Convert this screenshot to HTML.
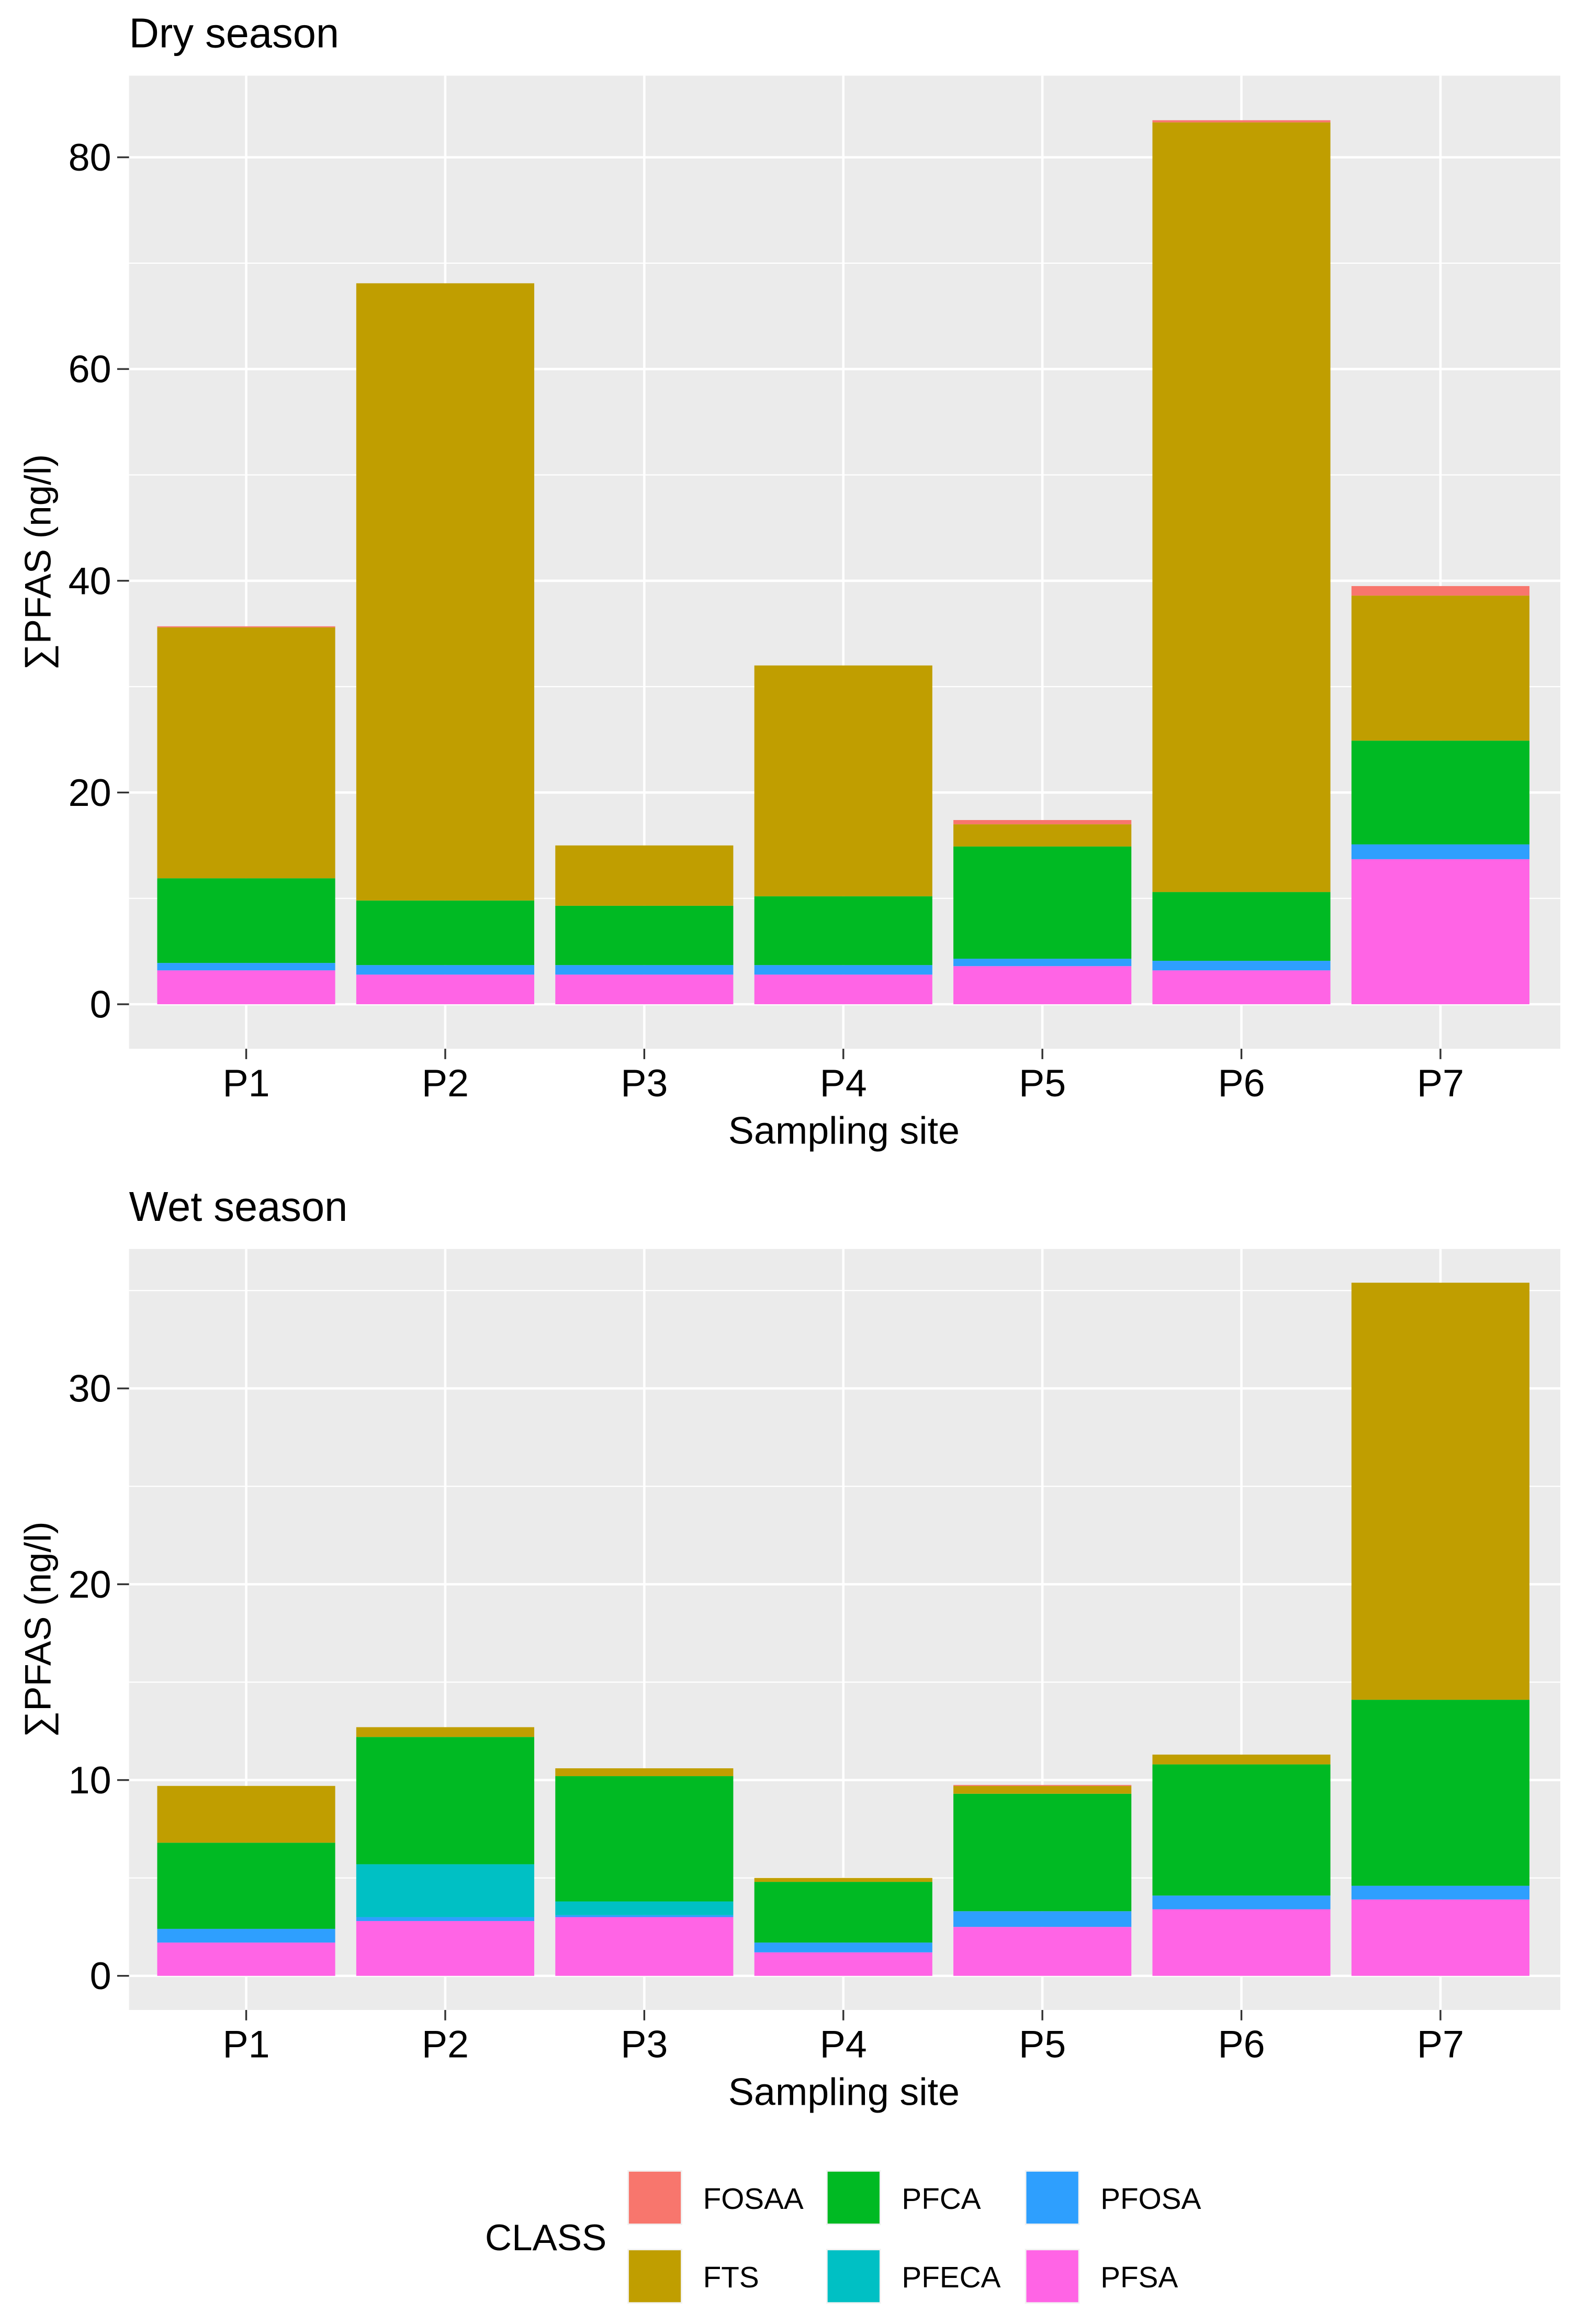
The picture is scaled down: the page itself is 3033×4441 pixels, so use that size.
<!DOCTYPE html>
<html><head><meta charset="utf-8"><style>
html,body{margin:0;padding:0;background:#fff}
svg{display:block}
text{font-family:"Liberation Sans",sans-serif;fill:#000}
</style></head><body>
<svg id="chart" width="3033" height="4441" viewBox="0 0 1070 1566.7" preserveAspectRatio="none" xmlns="http://www.w3.org/2000/svg"></svg>
<script>
const sites = ["P1","P2","P3","P4","P5","P6","P7"];
const classOrder = ["PFSA","PFOSA","PFECA","PFCA","FTS","FOSAA"];
// dry season values (ng/l) per class, per site
const dryPFSA  = [3.2, 2.8, 2.8, 2.8, 3.6, 3.2, 13.7];
const dryPFOSA = [0.7, 0.9, 0.9, 0.9, 0.7, 0.9, 1.4];
const dryPFECA = [0, 0, 0, 0, 0, 0, 0];
const dryPFCA  = [8.0, 6.1, 5.6, 6.5, 10.6, 6.5, 9.8];
const dryFTS   = [23.7, 58.3, 5.7, 21.8, 2.1, 72.7, 13.7];
const dryFOSAA = [0.1, 0, 0, 0, 0.4, 0.2, 0.9];
// wet season
const wetPFSA  = [1.7, 2.8, 3.0, 1.2, 2.5, 3.4, 3.9];
const wetPFOSA = [0.7, 0.2, 0.1, 0.5, 0.8, 0.7, 0.7];
const wetPFECA = [0, 2.7, 0.7, 0, 0, 0, 0];
const wetPFCA  = [4.4, 6.5, 6.4, 3.1, 6.0, 6.7, 9.5];
const wetFTS   = [2.9, 0.5, 0.4, 0.2, 0.4, 0.5, 21.3];
const wetFOSAA = [0, 0, 0, 0, 0.05, 0, 0];
const dryTicks = [0,20,40,60,80];
const wetTicks = [0,10,20,30];
const legendOrder = ["FOSAA","PFCA","PFOSA","FTS","PFECA","PFSA"];

const colors = {FOSAA:"#F8766D",FTS:"#C09E00",PFCA:"#00BA23",PFECA:"#00C0C4",PFOSA:"#2E9FFE",PFSA:"#FF64E5"};
const svg = document.getElementById('chart');
const NS = "http://www.w3.org/2000/svg";
function mk(tag, attrs, parent){const e=document.createElementNS(NS,tag);for(const k in attrs)e.setAttribute(k,attrs[k]);(parent||svg).appendChild(e);return e;}

function panel(opt){
  const g = mk('g',{});
  
  
  const L=87,R=1052,T=opt.top,B=opt.bottom;
  const y = v => opt.y0 - v*opt.ppu;
  const x = i => 166 + i*134.2;
  mk('rect',{x:L,y:T,width:R-L,height:B-T,fill:"#EBEBEB"},g);
  for(let i=0;i<opt.ticks.length-1;i++){const m=(opt.ticks[i]+opt.ticks[i+1])/2;mk('line',{x1:L,x2:R,y1:y(m),y2:y(m),stroke:"#fff","stroke-width":0.8},g);}
  const mt=opt.ticks[opt.ticks.length-1]+(opt.ticks[1]-opt.ticks[0])/2; if(y(mt)>T) mk('line',{x1:L,x2:R,y1:y(mt),y2:y(mt),stroke:"#fff","stroke-width":0.8},g);
  opt.ticks.forEach(t=>{
    mk('line',{x1:L,x2:R,y1:y(t),y2:y(t),stroke:"#fff","stroke-width":1.6},g);
    mk('line',{x1:L-8,x2:L,y1:y(t),y2:y(t),stroke:"#333","stroke-width":1.2},g);
    const tx=mk('text',{x:L-12,y:y(t)+9,"text-anchor":"end","font-size":26,fill:"#333"},g);tx.textContent=t;
    
    
  });
  sites.forEach((s,i)=>{
    mk('line',{x1:x(i),x2:x(i),y1:T,y2:B,stroke:"#fff","stroke-width":1.6},g);
    mk('line',{x1:x(i),x2:x(i),y1:B,y2:B+7,stroke:"#333","stroke-width":1.2},g);
    const tx=mk('text',{x:x(i),y:B+32,"text-anchor":"middle","font-size":26,fill:"#1a1a1a"},g);tx.textContent=s;
    
    
  });
  sites.forEach((s,i)=>{
    let acc=0;
    classOrder.forEach(c=>{
      const v=opt.data[c][i]; if(!v) return;
      const r=mk('rect',{x:x(i)-60,width:120,y:y(acc+v),height:v*opt.ppu,fill:colors[c]},g);
      
      
      acc+=v;
    });
  });
  const ti=mk('text',{x:87,y:opt.titleY,"font-size":28},g);ti.textContent=opt.title;
  
  
  const xt=mk('text',{x:569,y:B+64,"text-anchor":"middle","font-size":26},g);xt.textContent="Sampling site";
  
  
  const cy=(T+B)/2;
  const yt=mk('text',{x:0,y:0,"text-anchor":"middle","font-size":25,transform:`translate(34,${cy}) rotate(-90)`},g);yt.textContent="∑PFAS (ng/l)";
  
  
}
panel({name:'dry-season-panel',title:'Dry season',titleY:32,top:51,bottom:707,y0:677,ppu:7.137,ticks:dryTicks,
  data:{PFSA:dryPFSA,PFOSA:dryPFOSA,PFECA:dryPFECA,PFCA:dryPFCA,FTS:dryFTS,FOSAA:dryFOSAA}});
panel({name:'wet-season-panel',title:'Wet season',titleY:823,top:842,bottom:1355,y0:1332,ppu:13.2,ticks:wetTicks,
  data:{PFSA:wetPFSA,PFOSA:wetPFOSA,PFECA:wetPFECA,PFCA:wetPFCA,FTS:wetFTS,FOSAA:wetFOSAA}});

const lg=mk('g',{});


const lt=mk('text',{x:327,y:1517,"font-size":25},lg);lt.textContent="CLASS";
legendOrder.forEach((c,k)=>{
  const col=k%3,row=Math.floor(k/3);
  const lx=423+col*134, ly=1463+row*53;
  const e=mk('g',{},lg);
  
  
  mk('rect',{x:lx,y:ly,width:37,height:37,fill:"#f2f2f2"},e);
  mk('rect',{x:lx+1,y:ly+1,width:35,height:35,fill:colors[c]},e);
  const t=mk('text',{x:lx+51,y:ly+26,"font-size":20},e);t.textContent=c;
});
</script>
</body></html>
